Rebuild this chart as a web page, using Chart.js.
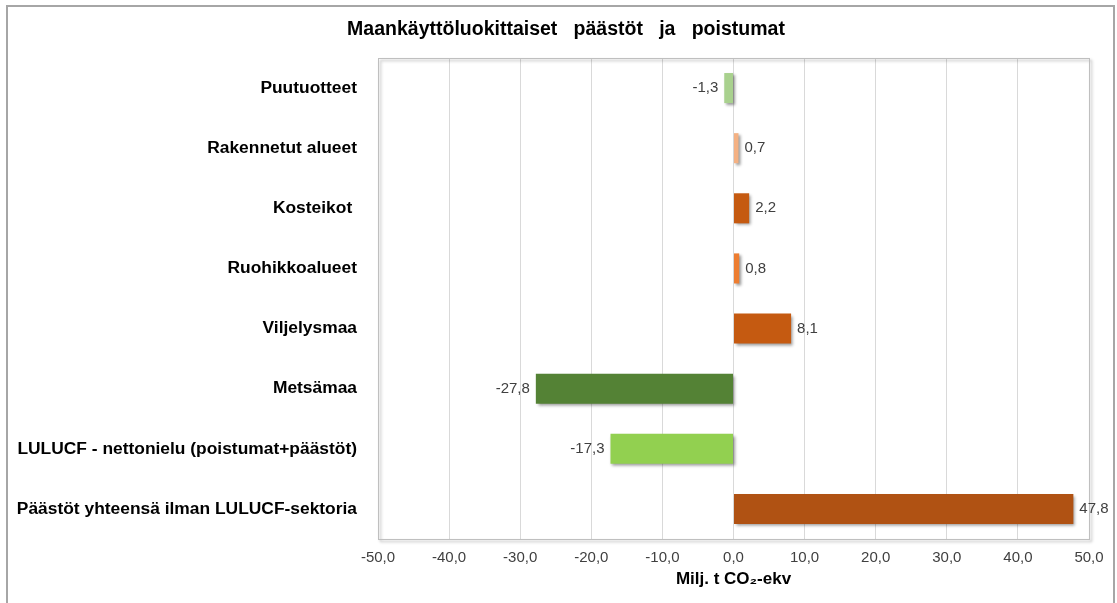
<!DOCTYPE html>
<html>
<head>
<meta charset="utf-8">
<script src="https://cdn.jsdelivr.net/npm/chart.js@4/dist/chart.umd.min.js"></script>
<style>
  html, body { margin: 0; padding: 0; background: #fff; }
  #wrap { width: 1117px; height: 603px; position: relative; }
</style>
</head>
<body>
<div id="wrap"><canvas id="myChart" width="1117" height="603"></canvas></div>
<script>
// data
var chartTitle = "Maankäyttöluokittaiset   päästöt   ja   poistumat";
var categories = [
    "Puutuotteet",
    "Rakennetut alueet",
    "Kosteikot ",
    "Ruohikkoalueet",
    "Viljelysmaa",
    "Metsämaa",
    "LULUCF - nettonielu (poistumat+päästöt)",
    "Päästöt yhteensä ilman LULUCF-sektoria"
];
var values = [-1.3, 0.7, 2.2, 0.8, 8.1, -27.8, -17.3, 47.8];
var barColors = ["#a9d18e", "#f4b183", "#c55a11", "#ed7d31", "#c55a11", "#548235", "#92d050", "#b05213"];
var xMin = -50, xMax = 50, xStep = 10;

function fmt(v) {
    return v.toFixed(1).replace(".", ",");
}

// outer frame, title, plot box with shadow
var framePlugin = {
    id: "frame",
    beforeDraw: function (chart) {
        var ctx = chart.ctx;
        ctx.save();
        ctx.fillStyle = "#fff";
        ctx.fillRect(0, 0, chart.width, chart.height);
        ctx.strokeStyle = "#a6a6a6";
        ctx.lineWidth = 2;
        ctx.strokeRect(7, 6, 1107, 640);
        // title, centred a bit right of the canvas middle like the original
        ctx.font = "bold 19.5px 'Liberation Sans', Arial, sans-serif";
        ctx.fillStyle = "#000";
        ctx.textAlign = "center";
        ctx.textBaseline = "middle";
        ctx.fillText(chartTitle, 566, 30);
        ctx.restore();
    },
    beforeDatasetsDraw: function (chart) {
        var a = chart.chartArea, ctx = chart.ctx;
        ctx.save();
        ctx.shadowColor = "rgba(0,0,0,0.35)";
        ctx.shadowOffsetX = 2;
        ctx.shadowOffsetY = 2;
        ctx.shadowBlur = 3;
        ctx.strokeStyle = "#bfbfbf";
        ctx.lineWidth = 1;
        ctx.strokeRect(a.left + 0.5, a.top + 0.5, a.right - a.left, a.bottom - a.top);
        ctx.restore();
        // bar shadow
        ctx.save();
        ctx.shadowColor = "rgba(0,0,0,0.4)";
        ctx.shadowOffsetX = 2;
        ctx.shadowOffsetY = 2;
        ctx.shadowBlur = 3;
    },
    afterDatasetsDraw: function (chart) {
        chart.ctx.restore();
    }
};

// value labels at the bar ends
var valueLabels = {
    id: "valueLabels",
    afterDatasetsDraw: function (chart) {
        var ctx = chart.ctx;
        var meta = chart.getDatasetMeta(0);
        ctx.save();
        ctx.font = "15px 'Liberation Sans', Arial, sans-serif";
        ctx.fillStyle = "#404040";
        ctx.textBaseline = "middle";
        meta.data.forEach(function (bar, i) {
            var v = values[i];
            if (v < 0) {
                ctx.textAlign = "right";
                ctx.fillText(fmt(v), bar.x - 6, bar.y);
            } else {
                ctx.textAlign = "left";
                ctx.fillText(fmt(v), bar.x + 6, bar.y);
            }
        });
        ctx.restore();
    }
};

var ctx = document.getElementById("myChart").getContext("2d");
var myChart = new Chart(ctx, {
    type: "bar",
    data: {
        labels: categories,
        datasets: [{
            data: values,
            backgroundColor: barColors,
            borderWidth: 0,
            barPercentage: 0.5,
            categoryPercentage: 1.0
        }]
    },
    plugins: [framePlugin, valueLabels],
    options: {
        indexAxis: "y",
        responsive: false,
        animation: false,
        layout: { padding: { left: 0, right: 28, top: 58, bottom: 0 } },
        plugins: {
            legend: { display: false },
            tooltip: { enabled: false },
            title: { display: false }
        },
        scales: {
            x: {
                min: xMin,
                max: xMax,
                ticks: {
                    stepSize: xStep,
                    color: "#404040",
                    font: { family: "'Liberation Sans', Arial, sans-serif", size: 15 },
                    padding: 10,
                    callback: function (v) { return fmt(v); }
                },
                grid: { color: "#d9d9d9", drawTicks: false },
                border: { display: false },
                title: {
                    display: true,
                    text: "Milj. t CO₂-ekv",
                    color: "#000",
                    font: { family: "'Liberation Sans', Arial, sans-serif", size: 17, weight: "bold" },
                    padding: { top: 2, bottom: 13 }
                },
                afterFit: function (scale) { scale.height = 64; }
            },
            y: {
                ticks: {
                    color: "#000",
                    font: { family: "'Liberation Sans', Arial, sans-serif", size: 17.4, weight: "bold" },
                    padding: 21
                },
                grid: { display: false, drawTicks: false },
                border: { display: false },
                afterFit: function (scale) { scale.width = 378; }
            }
        }
    }
});
</script>
</body>
</html>
